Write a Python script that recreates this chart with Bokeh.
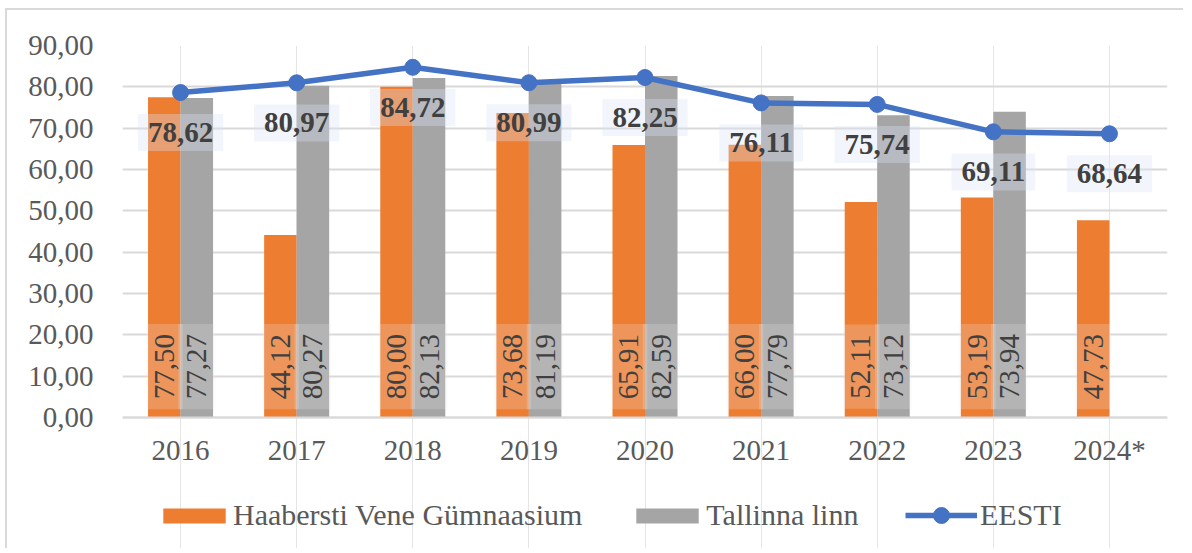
import math
from bokeh.plotting import figure
from bokeh.models import (ColumnDataSource, FactorRange, FixedTicker, Legend, LegendItem,
                          Range1d, CategoricalAxis)
from bokeh.transform import dodge
from bokeh.core.properties import value
from bokeh.embed import file_html
from bokeh.resources import INLINE

# ---- data ----
years = ["2016", "2017", "2018", "2019", "2020", "2021", "2022", "2023", "2024*"]
haabersti = [77.50, 44.12, 80.00, 73.68, 65.91, 66.00, 52.11, 53.19, 47.73]
tallinn_years = ["2016", "2017", "2018", "2019", "2020", "2021", "2022", "2023"]
tallinn = [77.27, 80.27, 82.13, 81.19, 82.59, 77.79, 73.12, 73.94]
eesti = [78.62, 80.97, 84.72, 80.99, 82.25, 76.11, 75.74, 69.11, 68.64]
y_ticks = [0, 10, 20, 30, 40, 50, 60, 70, 80, 90]
series_names = ["Haabersti Vene Gümnaasium", "Tallinna linn", "EESTI"]

# ---- style ----
ORANGE = "#ED7D31"
GRAY = "#A5A5A5"
BLUE = "#4472C4"
GRID = "#D9D9D9"
TXT = "#595959"
DARK = "#404040"
FONT = "Liberation Serif"
FS = "29px"
LEG_FS = "30px"
BAR_W = 0.28
BAR_LABEL_Y = 12.3      # "inside base" label position (data units)
LINE_LABEL_DROP = 9.7   # line labels sit below the points (data units)
Y_MIN_VIEW = -32.2      # frame extends below zero to hold axis labels and legend


def fmt(v):
    return f"{v:.2f}".replace(".", ",")


src_h = ColumnDataSource(dict(x=years, top=haabersti, label=[fmt(v) for v in haabersti],
                              ly=[BAR_LABEL_Y] * len(years)))
src_t = ColumnDataSource(dict(x=tallinn_years, top=tallinn, label=[fmt(v) for v in tallinn],
                              ly=[BAR_LABEL_Y] * len(tallinn_years)))
src_e = ColumnDataSource(dict(x=years, y=eesti, label=[fmt(v) for v in eesti],
                              ly=[v - LINE_LABEL_DROP for v in eesti]))

p = figure(x_range=FactorRange(*years, range_padding=0), y_range=Range1d(Y_MIN_VIEW, 90),
           width=1178, height=540, output_backend="svg", toolbar_location=None,
           x_axis_location=None,
           min_border_left=115, min_border_right=18, min_border_top=35, min_border_bottom=0)
p.outline_line_color = None
p.styles = {"margin-left": "5px", "margin-top": "8px",
            "border-left": "2px solid #D9D9D9", "border-top": "2px solid #D9D9D9"}

r_h = p.vbar(x=dodge("x", -BAR_W / 2, range=p.x_range), top="top", bottom=0, width=BAR_W,
             source=src_h, fill_color=ORANGE, line_color=None)
r_t = p.vbar(x=dodge("x", BAR_W / 2, range=p.x_range), top="top", bottom=0, width=BAR_W,
             source=src_t, fill_color=GRAY, line_color=None)

# rotated value labels inside the bars
for src, off in ((src_h, -BAR_W / 2), (src_t, BAR_W / 2)):
    p.text(x=dodge("x", off, range=p.x_range), y="ly", text="label", source=src,
           angle=math.pi / 2, text_align="center", text_baseline="middle",
           text_font=value(FONT), text_font_size=FS, text_color=DARK,
           background_fill_color="#EDEDED", background_fill_alpha=0.22, padding=(10, 9))

r_l = p.line(x="x", y="y", source=src_e, line_color=BLUE, line_width=5.5)
r_m = p.scatter(x="x", y="y", source=src_e, size=16, marker="circle",
                fill_color=BLUE, line_color=BLUE)

p.text(x="x", y="ly", text="label", source=src_e, text_align="center", text_baseline="middle",
       text_font=value(FONT), text_font_size=FS, text_font_style="bold", text_color=DARK,
       background_fill_color="#DAE3F3", background_fill_alpha=0.35, padding=(10, 9))

# x axis fixed at y = 0
xaxis = CategoricalAxis(fixed_location=0)
xaxis.axis_line_color = GRID
xaxis.axis_line_width = 2
xaxis.major_tick_line_color = None
xaxis.minor_tick_line_color = None
xaxis.major_label_text_font = FONT
xaxis.major_label_text_font_size = FS
xaxis.major_label_text_color = TXT
xaxis.major_label_standoff = 11
p.add_layout(xaxis, "below")

p.yaxis.ticker = FixedTicker(ticks=y_ticks)
p.yaxis.major_label_overrides = {t: fmt(t) for t in y_ticks}
p.yaxis.axis_line_color = None
p.yaxis.major_tick_line_color = None
p.yaxis.minor_tick_line_color = None
p.yaxis.major_label_text_font = FONT
p.yaxis.major_label_text_font_size = FS
p.yaxis.major_label_text_color = TXT
p.yaxis.major_label_standoff = 23

p.ygrid.grid_line_color = GRID
p.ygrid.grid_line_width = 2
p.ygrid.ticker = FixedTicker(ticks=y_ticks)

leg_common = dict(orientation="horizontal", padding=0, margin=0, border_line_color=None,
                  background_fill_alpha=0, label_text_font=FONT, label_text_font_size=LEG_FS,
                  label_text_color=TXT)
leg1 = Legend(items=[LegendItem(label=series_names[0], renderers=[r_h]),
                     LegendItem(label=series_names[1], renderers=[r_t])],
              location=(33, 18), glyph_width=78, glyph_height=19, label_standoff=0,
              spacing=46, **leg_common)
leg2 = Legend(items=[LegendItem(label=series_names[2], renderers=[r_l, r_m])],
              location=(783, 15), glyph_width=72, glyph_height=40, label_standoff=3,
              **leg_common)
p.add_layout(leg1)
p.add_layout(leg2)

open("out.html", "w").write(file_html(p, INLINE))
